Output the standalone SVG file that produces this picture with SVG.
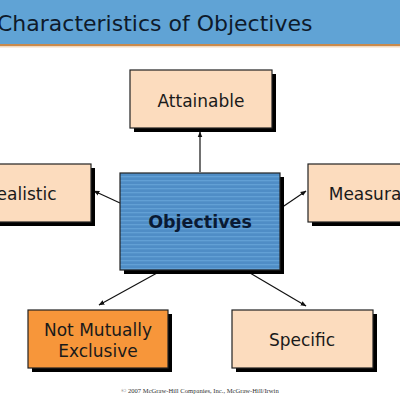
<svg xmlns="http://www.w3.org/2000/svg" width="400" height="400" viewBox="0 0 400 400">
<style>
.shadow{fill:#000}
.box{stroke:#222;stroke-width:1.2}
.peach{fill:#FCDCBE}
.orange{fill:#F7963A}
.lbl{font-family:"DejaVu Sans",Verdana,sans-serif;font-size:17px;fill:#1a1a1a;text-anchor:middle}
.conn{stroke:#111;stroke-width:1.2;fill:none;marker-end:url(#ah)}
</style>
<defs>
<marker id="ah" viewBox="0 0 10 10" refX="9" refY="5" markerWidth="6" markerHeight="6" orient="auto" markerUnits="userSpaceOnUse">
<path d="M0,1 L10,5 L0,9 z" fill="#111"/>
</marker>
<pattern id="stripes" width="4" height="4" patternUnits="userSpaceOnUse">
<rect width="4" height="4" fill="#4F8DC6"/>
<rect y="0" width="4" height="1.3" fill="#62A0D5"/>
</pattern>
</defs>
<rect width="400" height="400" fill="#fff"/>
<g id="header">
<rect x="0" y="0" width="400" height="44" fill="#60A3D5"/>
<rect x="0" y="44" width="400" height="2" fill="#C98A4C"/>
<rect x="0" y="46" width="400" height="1.5" fill="#F2D9C0"/>
<text x="-3" y="31" font-family="DejaVu Sans,Verdana,sans-serif" font-size="22" fill="#0E1A2B">Characteristics of Objectives</text>
</g>
<g id="connectors">
<line class="conn" x1="200" y1="172" x2="200" y2="132"/>
<line class="conn" x1="120" y1="203" x2="94" y2="191"/>
<line class="conn" x1="281" y1="208" x2="306" y2="191"/>
<line class="conn" x1="157" y1="273" x2="99" y2="305"/>
<line class="conn" x1="250" y1="273" x2="306" y2="306"/>
</g>
<g id="attainable">
<rect class="shadow" x="134" y="74" width="142" height="58"/>
<rect class="box peach" x="130" y="70" width="142" height="58"/>
<text class="lbl" x="201" y="107">Attainable</text>
</g>
<g id="realistic">
<rect class="shadow" x="-41" y="168" width="136" height="58"/>
<rect class="box peach" x="-45" y="164" width="136" height="58"/>
<text class="lbl" x="21" y="200">Realistic</text>
</g>
<g id="measurable">
<rect class="shadow" x="312" y="168" width="134" height="58"/>
<rect class="box peach" x="308" y="164" width="134" height="58"/>
<text class="lbl" x="378" y="200">Measurable</text>
</g>
<g id="objectives">
<rect class="shadow" x="124" y="177" width="160" height="97"/>
<rect class="box" x="120" y="173" width="160" height="97" fill="url(#stripes)"/>
<text x="200" y="228" font-family="DejaVu Sans,Verdana,sans-serif" font-size="17.5" font-weight="bold" fill="#0A1A33" text-anchor="middle">Objectives</text>
</g>
<g id="not-mutually-exclusive">
<rect class="shadow" x="32" y="314" width="140" height="58"/>
<rect class="box orange" x="28" y="310" width="140" height="58"/>
<text class="lbl" x="98" y="336">Not Mutually</text>
<text class="lbl" x="98" y="357">Exclusive</text>
</g>
<g id="specific">
<rect class="shadow" x="236" y="314" width="141" height="58"/>
<rect class="box peach" x="232" y="310" width="141" height="58"/>
<text class="lbl" x="302" y="346">Specific</text>
</g>
<text x="200" y="393" font-family="Liberation Serif,Times New Roman,serif" font-size="6.6" fill="#333" text-anchor="middle">© 2007 McGraw-Hill Companies, Inc., McGraw-Hill/Irwin</text>
</svg>
